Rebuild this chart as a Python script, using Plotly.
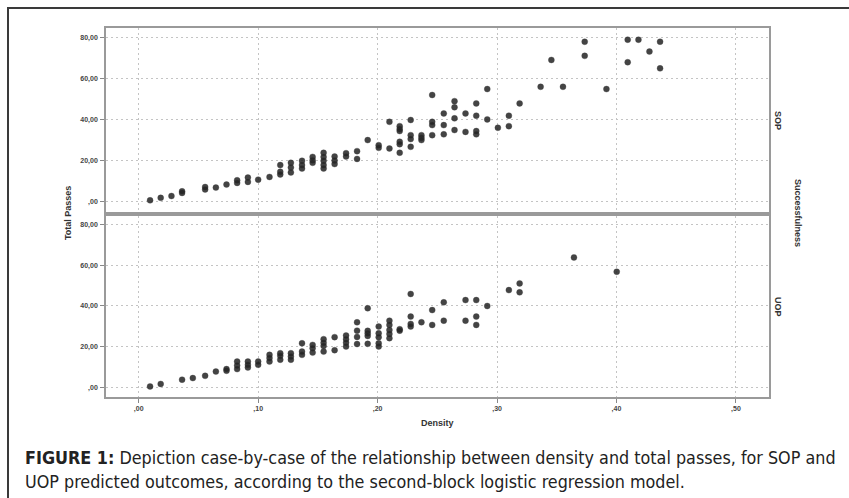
import plotly.graph_objects as go

W, H = 849, 498

# ---- data ----
sop_density = [0.0095, 0.0184, 0.0274, 0.0363, 0.0363, 0.0556, 0.0556, 0.0646, 0.0735,
               0.0824, 0.0824, 0.0914, 0.0914, 0.1000, 0.1095,
               0.1185, 0.1185, 0.1185, 0.1274, 0.1274, 0.1274, 0.1367, 0.1367, 0.1367,
               0.1456, 0.1456, 0.1456, 0.1548, 0.1548, 0.1548, 0.1548, 0.1548,
               0.1640, 0.1640, 0.1640, 0.1736, 0.1736, 0.1828, 0.1828, 0.1917,
               0.2009, 0.2009, 0.2099, 0.2099,
               0.2185, 0.2185, 0.2185, 0.2185, 0.2185, 0.2185,
               0.2277, 0.2277, 0.2277, 0.2277, 0.2367, 0.2367, 0.2367,
               0.2457, 0.2457, 0.2457, 0.2457, 0.2554, 0.2554, 0.2554,
               0.2644, 0.2644, 0.2644, 0.2644, 0.2736, 0.2736,
               0.2826, 0.2826, 0.2826, 0.2826, 0.2918, 0.2918, 0.3007,
               0.3099, 0.3099, 0.3189, 0.3365, 0.3455, 0.3552, 0.3734, 0.3734,
               0.3916, 0.4094, 0.4094, 0.4184, 0.4276, 0.4365, 0.4365]
sop_passes = [0.6, 1.8, 2.7, 4.2, 5.0, 7.1, 5.9, 6.8, 8.3,
              10.4, 9.1, 11.7, 9.6, 10.7, 12.0,
              17.8, 14.5, 13.2, 18.9, 16.6, 14.2, 19.9, 17.8, 16.1,
              21.8, 20.2, 18.9, 23.8, 21.8, 19.9, 17.8, 16.1,
              22.0, 20.0, 18.3, 23.6, 22.0, 24.6, 20.8, 30.0,
              27.5, 26.2, 38.9, 25.9,
              36.8, 35.4, 34.4, 29.2, 28.0, 23.8,
              39.8, 32.4, 30.5, 26.7, 32.4, 31.1, 30.0,
              52.0, 38.9, 37.3, 32.4, 43.0, 37.3, 32.8,
              49.0, 46.0, 40.6, 34.9, 43.0, 34.0,
              47.9, 41.9, 34.4, 32.8, 54.9, 40.1, 36.0,
              41.9, 36.8, 47.9, 56.0, 69.1, 56.0, 78.0, 71.1,
              54.9, 79.0, 68.0, 79.0, 73.2, 78.0, 65.0]

uop_density = [0.0095, 0.0184, 0.0363, 0.0453, 0.0556, 0.0646, 0.0735, 0.0735,
               0.0824, 0.0824, 0.0824, 0.0914, 0.0914, 0.0914, 0.1000, 0.1000,
               0.1095, 0.1095, 0.1095, 0.1185, 0.1185, 0.1185, 0.1274, 0.1274, 0.1274,
               0.1367, 0.1367, 0.1367, 0.1456, 0.1456, 0.1456,
               0.1548, 0.1548, 0.1548, 0.1548, 0.1640, 0.1640,
               0.1736, 0.1736, 0.1736, 0.1736, 0.1828, 0.1828, 0.1828, 0.1828,
               0.1917, 0.1917, 0.1917, 0.1917, 0.1917,
               0.2009, 0.2009, 0.2009, 0.2009, 0.2009,
               0.2099, 0.2099, 0.2099, 0.2099, 0.2099, 0.2185, 0.2185,
               0.2277, 0.2277, 0.2277, 0.2277, 0.2367, 0.2457, 0.2457,
               0.2554, 0.2554, 0.2736, 0.2736, 0.2826, 0.2826, 0.2826, 0.2918,
               0.3099, 0.3189, 0.3189, 0.3644, 0.4002]
uop_passes = [0.5, 1.7, 3.8, 4.6, 5.7, 7.8, 8.2, 9.0,
              12.7, 10.8, 9.0, 12.7, 11.1, 9.8, 12.7, 11.1,
              16.0, 14.4, 12.7, 16.8, 15.5, 13.6, 16.8, 15.2, 13.6,
              21.7, 17.6, 16.0, 20.9, 19.3, 17.1,
              23.7, 22.0, 20.4, 17.6, 24.7, 18.3,
              25.5, 23.7, 22.0, 20.1, 32.0, 27.9, 24.8, 21.3,
              38.9, 27.8, 26.6, 25.3, 21.4,
              29.9, 26.6, 24.7, 21.7, 20.1,
              32.8, 30.7, 28.2, 26.3, 24.2, 28.6, 27.9,
              45.9, 34.8, 31.2, 29.9, 32.0, 38.0, 30.7,
              41.8, 32.8, 42.9, 32.8, 42.9, 34.8, 30.7, 40.0,
              47.8, 51.1, 46.7, 63.8, 56.8]

x_tickvals = [0.0, 0.1, 0.2, 0.3, 0.4, 0.5]
x_ticktext = [",00", ",10", ",20", ",30", ",40", ",50"]
y_tickvals = [0, 20, 40, 60, 80]
y_ticktext = [",00", "20,00", "40,00", "60,00", "80,00"]

panel_labels = ["SOP", "UOP"]

# ---- figure ----
def px_x(p):
    return p / W

def px_y(p):
    return 1 - p / H

marker = dict(size=6, color="rgba(35,35,35,0.85)", symbol="circle",
              line=dict(width=0.6, color="rgba(60,60,60,0.55)"))

fig = go.Figure()
fig.add_trace(go.Scatter(x=sop_density, y=sop_passes, mode="markers",
                         marker=marker, xaxis="x2", yaxis="y2", showlegend=False))
fig.add_trace(go.Scatter(x=uop_density, y=uop_passes, mode="markers",
                         marker=marker, xaxis="x", yaxis="y", showlegend=False))

xdom = [px_x(106), px_x(769)]
xrange_ = [-0.0274, 0.5277]
tickfont = dict(family="Liberation Sans, Arial", size=7, color="#444", weight="bold")
grid = dict(showgrid=True, gridcolor="#c4c4c4", griddash="2px,3px", gridwidth=1.3)
frame = dict(zeroline=False, showline=True, mirror=True, linecolor="#9a9a9a",
             linewidth=1.6, automargin=False, fixedrange=True)
common_x = dict(range=xrange_, domain=xdom, tickvals=x_tickvals, **grid, **frame)
common_y = dict(tickvals=y_tickvals, ticktext=y_ticktext, ticks="outside",
                ticklen=4, tickcolor="#888", tickwidth=1, tickfont=tickfont,
                ticklabelstandoff=1, **grid, **frame)

fig.update_layout(
    width=W, height=H,
    margin=dict(l=0, r=0, t=0, b=0, autoexpand=False),
    paper_bgcolor="white", plot_bgcolor="white",
    xaxis=dict(**common_x, anchor="y", ticktext=x_ticktext, ticks="outside",
               ticklen=4, tickcolor="#888", tickfont=tickfont),
    yaxis=dict(**common_y, domain=[px_y(397), px_y(216)], range=[-4.7, 84.2],
               anchor="x"),
    xaxis2=dict(**common_x, anchor="y2", showticklabels=False, ticks=""),
    yaxis2=dict(**common_y, domain=[px_y(212), px_y(28)], range=[-5.1, 84.7],
                anchor="x2"),
)

lab_font = dict(family="Liberation Sans, Arial", size=9, color="#333", weight="bold")
ann = []
ann.append(dict(text="Total Passes", x=px_x(68), y=px_y(213), textangle=-90,
                font=lab_font))
ann.append(dict(text="Density", x=px_x(437), y=px_y(423), font=lab_font))
ann.append(dict(text=panel_labels[0], x=px_x(778), y=px_y(120), textangle=90,
                font=lab_font))
ann.append(dict(text=panel_labels[1], x=px_x(778), y=px_y(307), textangle=90,
                font=lab_font))
ann.append(dict(text="Successfulness", x=px_x(798), y=px_y(213), textangle=90,
                font=lab_font))
cap_font = dict(family="DejaVu Sans Condensed, Liberation Sans Narrow, Arial",
                size=17.8, color="#222")
ann.append(dict(text="<b>FIGURE 1:</b> Depiction case-by-case of the relationship between "
                     "density and total passes, for SOP and",
                x=px_x(23), y=px_y(457), xanchor="left", font=cap_font))
ann.append(dict(text="UOP predicted outcomes, according to the second-block logistic "
                     "regression model.",
                x=px_x(23), y=px_y(481), xanchor="left", font=cap_font))
for a in ann:
    a.setdefault("xanchor", "center")
    a.update(xref="paper", yref="paper", yanchor="middle", showarrow=False)
fig.update_layout(annotations=ann)

fig.add_shape(type="rect", xref="paper", yref="paper",
              x0=px_x(8), x1=1.2, y0=-0.2, y1=px_y(8),
              line=dict(color="#3a3a3a", width=2), fillcolor="rgba(0,0,0,0)")

# remove the default 8px page margin so the figure sits at the window origin
fig.write_html("out.html",
               config={"displayModeBar": False},
               post_script="document.body.style.margin='0';"
                           "document.body.style.overflow='hidden';")
